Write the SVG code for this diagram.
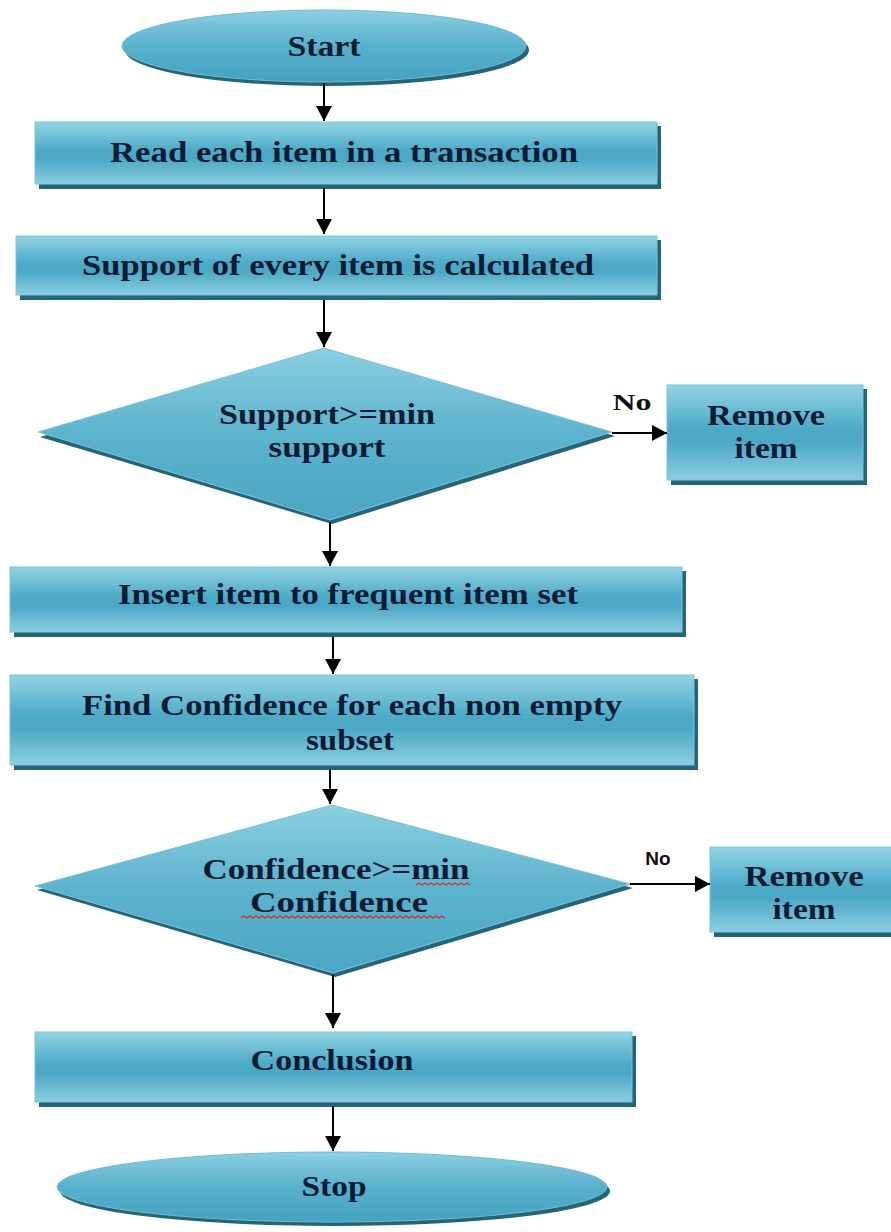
<svg xmlns="http://www.w3.org/2000/svg" width="891" height="1232" viewBox="0 0 891 1232">
<defs>
<linearGradient id="gBox" x1="0" y1="0" x2="0" y2="1">
<stop offset="0" stop-color="#92d4e4"/>
<stop offset="0.45" stop-color="#4eabc8"/>
<stop offset="0.6" stop-color="#4ba8c5"/>
<stop offset="1" stop-color="#8bcfe1"/>
</linearGradient>
<linearGradient id="gEll" x1="0" y1="0" x2="0" y2="1">
<stop offset="0" stop-color="#8ccfe2"/>
<stop offset="0.5" stop-color="#58b1cc"/>
<stop offset="1" stop-color="#45a2c0"/>
</linearGradient>
<linearGradient id="gDia" x1="0" y1="0" x2="0" y2="1">
<stop offset="0" stop-color="#8bcfe1"/>
<stop offset="0.5" stop-color="#5cb3cd"/>
<stop offset="1" stop-color="#4ba6c3"/>
</linearGradient>
<marker id="ah" markerUnits="userSpaceOnUse" markerWidth="18" markerHeight="18" refX="15" refY="8" orient="auto">
<path d="M0,0 L15,8 L0,16 z" fill="#000"/>
</marker>
</defs>
<style>
.shadow{fill:#24657a}
.box{fill:url(#gBox);stroke:#7cc3d8;stroke-width:1}
.ell{fill:url(#gEll);stroke:#6fbcd3;stroke-width:1}
.dia{fill:url(#gDia);stroke:#7cc3d8;stroke-width:1}
.t{font-family:"Liberation Serif","Times New Roman",serif;font-weight:bold;font-size:29px;fill:#0b1b33;text-anchor:middle;dominant-baseline:central}
.no1{font-family:"Liberation Serif",serif;font-weight:bold;font-size:23px;fill:#111;text-anchor:middle;dominant-baseline:central}
.no2{font-family:"Liberation Sans",Arial,sans-serif;font-weight:bold;font-size:19px;fill:#111;text-anchor:middle;dominant-baseline:central}
.c{stroke:#000;stroke-width:2;fill:none;marker-end:url(#ah)}
.sq{stroke:#d0302a;stroke-width:1.2;fill:none}
</style>

<g id="start">
<ellipse class="shadow" cx="327" cy="50" rx="202" ry="36"/>
<ellipse class="ell" cx="324" cy="46" rx="202" ry="36"/>
<text class="t" x="324" y="46" textLength="73" lengthAdjust="spacingAndGlyphs">Start</text>
</g>

<g id="read">
<rect class="shadow" x="39" y="126" width="622" height="63"/>
<rect class="box" x="35" y="122" width="622" height="62"/>
<text class="t" x="344" y="152" textLength="468" lengthAdjust="spacingAndGlyphs">Read each item in a transaction</text>
</g>

<g id="support">
<rect class="shadow" x="20" y="240" width="641" height="60"/>
<rect class="box" x="16" y="236" width="641" height="59"/>
<text class="t" x="338" y="265" textLength="512" lengthAdjust="spacingAndGlyphs">Support of every item is calculated</text>
</g>

<g id="decision1">
<polygon class="shadow" points="326,353 615,436 332,524 40,437"/>
<polygon class="dia" points="324,348 612,432 330,520 38,432"/>
<text class="t" x="327" y="414" textLength="216" lengthAdjust="spacingAndGlyphs">Support&gt;=min</text>
<text class="t" x="327" y="447" textLength="117" lengthAdjust="spacingAndGlyphs">support</text>
</g>

<g id="remove1">
<rect class="shadow" x="671" y="389" width="196" height="96"/>
<rect class="box" x="667" y="385" width="196" height="95"/>
<text class="t" x="766" y="415" textLength="118" lengthAdjust="spacingAndGlyphs">Remove</text>
<text class="t" x="766" y="448" textLength="63" lengthAdjust="spacingAndGlyphs">item</text>
</g>

<g id="insert">
<rect class="shadow" x="14" y="571" width="672" height="66"/>
<rect class="box" x="10" y="567" width="672" height="65"/>
<text class="t" x="348" y="594" textLength="460" lengthAdjust="spacingAndGlyphs">Insert item to frequent item set</text>
</g>

<g id="confidence">
<rect class="shadow" x="14" y="679" width="684" height="91"/>
<rect class="box" x="10" y="675" width="684" height="90"/>
<text class="t" x="352" y="705" textLength="540" lengthAdjust="spacingAndGlyphs">Find Confidence for each non empty</text>
<text class="t" x="350" y="740" textLength="88" lengthAdjust="spacingAndGlyphs">subset</text>
</g>

<g id="decision2">
<polygon class="shadow" points="334,810 633,888 335,977 37,890"/>
<polygon class="dia" points="332,805 630,884 333,973 35,886"/>
<text class="t" x="336" y="869" textLength="267" lengthAdjust="spacingAndGlyphs">Confidence&gt;=min</text>
<text class="t" x="339" y="902" textLength="178" lengthAdjust="spacingAndGlyphs">Confidence</text>
<path class="sq" d="M416,885 l3,-2 l3,2 l3,-2 l3,2 l3,-2 l3,2 l3,-2 l3,2 l3,-2 l3,2 l3,-2 l3,2 l3,-2 l3,2 l3,-2 l3,2 l3,-2 l3,2"/>
<path class="sq" d="M241,918 l3,-2 l3,2 l3,-2 l3,2 l3,-2 l3,2 l3,-2 l3,2 l3,-2 l3,2 l3,-2 l3,2 l3,-2 l3,2 l3,-2 l3,2 l3,-2 l3,2 l3,-2 l3,2 l3,-2 l3,2 l3,-2 l3,2 l3,-2 l3,2 l3,-2 l3,2 l3,-2 l3,2 l3,-2 l3,2 l3,-2 l3,2 l3,-2 l3,2 l3,-2 l3,2 l3,-2 l3,2 l3,-2 l3,2 l3,-2 l3,2 l3,-2 l3,2 l3,-2 l3,2 l3,-2 l3,2 l3,-2 l3,2 l3,-2 l3,2 l3,-2 l3,2 l3,-2 l3,2 l3,-2 l3,2 l3,-2 l3,2 l3,-2 l3,2 l3,-2 l3,2 l3,-2 l3,2"/>
</g>

<g id="remove2">
<rect class="shadow" x="714" y="851" width="181" height="86"/>
<rect class="box" x="710" y="847" width="185" height="85"/>
<text class="t" x="804" y="876" textLength="119" lengthAdjust="spacingAndGlyphs">Remove</text>
<text class="t" x="804" y="909" textLength="63" lengthAdjust="spacingAndGlyphs">item</text>
</g>

<g id="conclusion">
<rect class="shadow" x="39" y="1036" width="597" height="71"/>
<rect class="box" x="35" y="1032" width="597" height="70"/>
<text class="t" x="332" y="1060" textLength="163" lengthAdjust="spacingAndGlyphs">Conclusion</text>
</g>

<g id="stop">
<ellipse class="shadow" cx="335" cy="1191" rx="275" ry="35"/>
<ellipse class="ell" cx="332" cy="1187" rx="275" ry="35"/>
<text class="t" x="334" y="1186" textLength="65" lengthAdjust="spacingAndGlyphs">Stop</text>
</g>

<g id="connectors">
<line class="c" x1="324" y1="83" x2="324" y2="121"/>
<line class="c" x1="324" y1="188" x2="324" y2="234"/>
<line class="c" x1="324" y1="300" x2="324" y2="347"/>
<line class="c" x1="612" y1="433" x2="667" y2="433"/>
<line class="c" x1="330" y1="522" x2="330" y2="566"/>
<line class="c" x1="333" y1="637" x2="333" y2="674"/>
<line class="c" x1="330" y1="770" x2="330" y2="804"/>
<line class="c" x1="630" y1="884" x2="710" y2="884"/>
<line class="c" x1="333" y1="975" x2="333" y2="1028"/>
<line class="c" x1="333" y1="1106" x2="333" y2="1151"/>
<text class="no1" x="632" y="402" textLength="39" lengthAdjust="spacingAndGlyphs">No</text>
<text class="no2" x="658" y="858">No</text>
</g>
</svg>
